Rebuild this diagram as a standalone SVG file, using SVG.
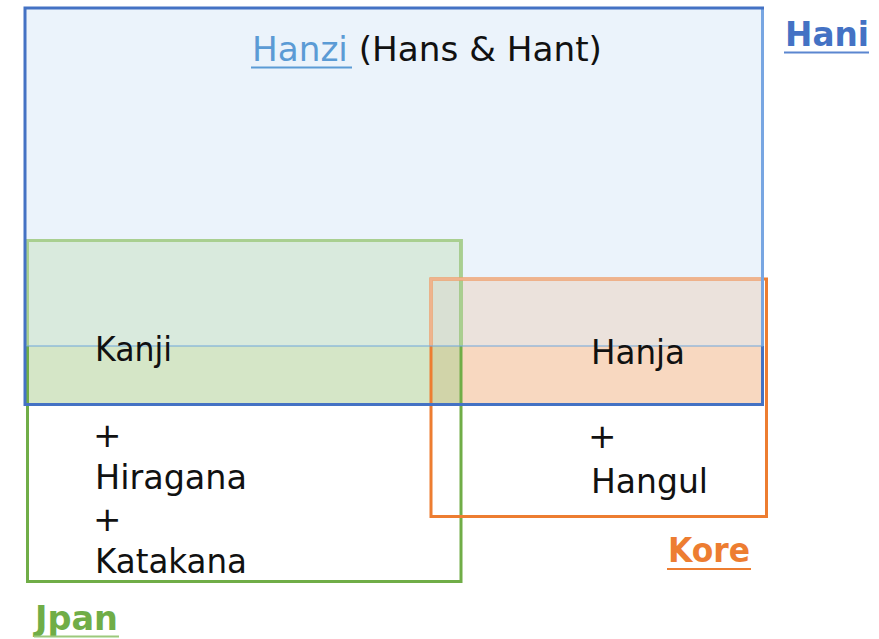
<svg xmlns="http://www.w3.org/2000/svg" width="879" height="639" viewBox="0 0 879 639">
<style>
.t{font-family:"DejaVu Sans","Noto Sans",sans-serif;font-size:34px;fill:#111}
.lb{font-family:"DejaVu Sans","Noto Sans",sans-serif;font-size:33px;font-weight:bold}
</style>
<rect width="879" height="639" fill="#ffffff"/>
<g id="hani">
<rect x="25" y="8" width="737.5" height="396.5" fill="#ebf3fb"/>
</g>
<g id="jpan">
<rect x="27.5" y="240.5" width="433.5" height="105.5" fill="#d9eadd"/>
<rect x="27.5" y="346" width="433.5" height="58.5" fill="#d5e6c7"/>
</g>
<g id="kore">
<rect x="431" y="279" width="331.5" height="67" fill="#ebe2dc"/>
<rect x="431" y="346" width="331.5" height="58.5" fill="#f8d8c0"/>
</g>
<g id="overlap">
<rect x="431" y="279" width="30" height="67" fill="#d9e0d3"/>
<rect x="431" y="346" width="30" height="58.5" fill="#d1d4a9"/>
</g>
<g id="borders" fill="none">
<rect x="27.5" y="240.5" width="433.5" height="341" stroke="#70ad47" stroke-width="3"/>
<polyline points="27.5,346 27.5,240.5 461,240.5 461,346" stroke="#a9cf90" stroke-width="3"/>
<rect x="431" y="279" width="335.5" height="237.5" stroke="#ed7d31" stroke-width="3"/>
<polyline points="431,346 431,279 762.5,279" stroke="#efb38d" stroke-width="3"/>
<rect x="25" y="8" width="737.5" height="396.5" stroke="#4472c4" stroke-width="3"/>
<line x1="762.5" y1="9.5" x2="762.5" y2="346" stroke="#78a6e2" stroke-width="3"/>
<line x1="26.5" y1="346" x2="763" y2="346" stroke="#6fa6dc" stroke-width="1.2"/>
</g>
<g id="labels">
<text class="t" x="252" y="61" textLength="350" lengthAdjust="spacingAndGlyphs"><tspan fill="#5b9bd5">Hanzi</tspan> (Hans &amp; Hant)</text>
<line x1="251" y1="67.5" x2="352" y2="67.5" stroke="#5b9bd5" stroke-width="2"/>
<text class="lb" x="785" y="46" fill="#4472c4" textLength="84" lengthAdjust="spacingAndGlyphs">Hani</text>
<line x1="784" y1="52.5" x2="869" y2="52.5" stroke="#5b86d0" stroke-width="2"/>
<text class="lb" x="668" y="562" fill="#ed7d31" textLength="82" lengthAdjust="spacingAndGlyphs">Kore</text>
<line x1="667" y1="569" x2="751" y2="569" stroke="#ed7d31" stroke-width="2"/>
<text class="lb" x="35" y="630" fill="#70ad47" textLength="83" lengthAdjust="spacingAndGlyphs">Jpan</text>
<line x1="34" y1="636.5" x2="119" y2="636.5" stroke="#9cc97c" stroke-width="2"/>
</g>
<g id="jpan-text">
<text class="t" x="95" y="361" textLength="77" lengthAdjust="spacingAndGlyphs">Kanji</text>
<text class="t" x="93" y="447">+</text>
<text class="t" x="95" y="489" textLength="152" lengthAdjust="spacingAndGlyphs">Hiragana</text>
<text class="t" x="93" y="531">+</text>
<text class="t" x="95" y="573" textLength="152" lengthAdjust="spacingAndGlyphs">Katakana</text>
</g>
<g id="kore-text">
<text class="t" x="591" y="364" textLength="94" lengthAdjust="spacingAndGlyphs">Hanja</text>
<text class="t" x="588" y="448">+</text>
<text class="t" x="591" y="493" textLength="117" lengthAdjust="spacingAndGlyphs">Hangul</text>
</g>
</svg>
